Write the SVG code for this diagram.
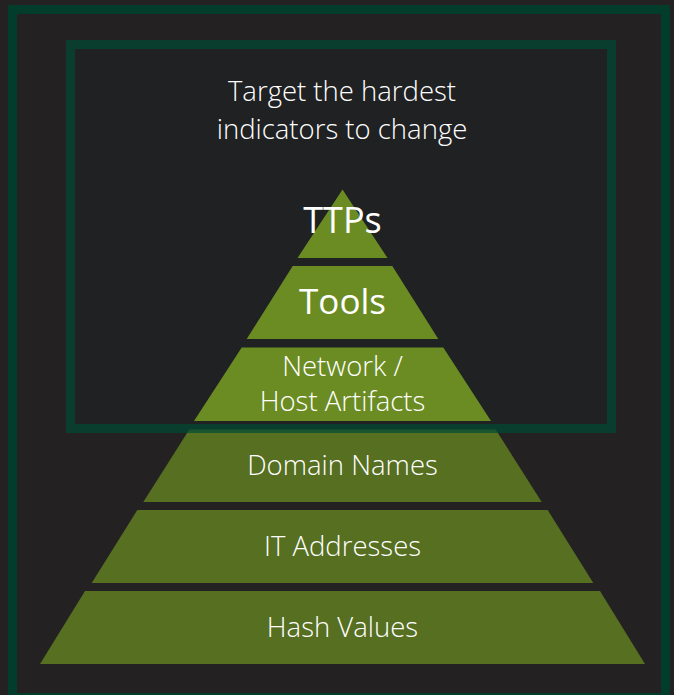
<svg xmlns="http://www.w3.org/2000/svg" width="674" height="695" viewBox="0 0 674 695">
<style>
.t{font-family:"Open Sans","Noto Sans","DejaVu Sans",sans-serif;fill:#ffffff;text-anchor:middle;font-weight:300;font-size:27.5px}
.big{font-size:36px;font-weight:400}
.up{fill:#6b8c23}
.lo{fill:#566f21}
</style>
<rect x="0" y="0" width="674" height="695" fill="#232122"/>
<rect x="12.5" y="9.5" width="653" height="688" fill="none" stroke="#023d2c" stroke-width="9"/>
<rect id="frame-fill" x="70.5" y="44.5" width="541" height="384" fill="#1f2122"/>
<text class="t" x="342" y="101">Target the hardest</text>
<text class="t" x="342" y="139">indicators to change</text>
<g id="ttps"><polygon class="up" points="342.5,189.5 387.5,258 297.5,258"/><text class="t big" x="342.5" y="233">TTPs</text></g>
<g id="tools"><polygon class="up" points="292.7,266 392.3,266 438.3,339 246.7,339"/><text class="t big" x="342.5" y="314" style="font-size:35px">Tools</text></g>
<g id="network"><polygon class="up" points="241.7,347.5 443.3,347.5 491,421 194,421"/><text class="t" x="342.5" y="376">Network /</text><text class="t" x="342.5" y="411">Host Artifacts</text></g>
<g id="domain"><polygon class="lo" points="189.3,429.5 495.7,429.5 541.7,502 143.3,502"/><text class="t" x="342.5" y="475">Domain Names</text></g>
<g id="ip"><polygon class="lo" points="137.3,510 547.7,510 593.3,583 91.7,583"/><text class="t" x="342.5" y="556">IT Addresses</text></g>
<g id="hash"><polygon class="lo" points="85,591 600,591 645,664 40,664"/><text class="t" x="342.5" y="637">Hash Values</text></g>
<rect id="frame" x="70.5" y="44.5" width="541" height="384" fill="none" stroke="#004a33" stroke-opacity="0.7" stroke-width="9"/>
</svg>
